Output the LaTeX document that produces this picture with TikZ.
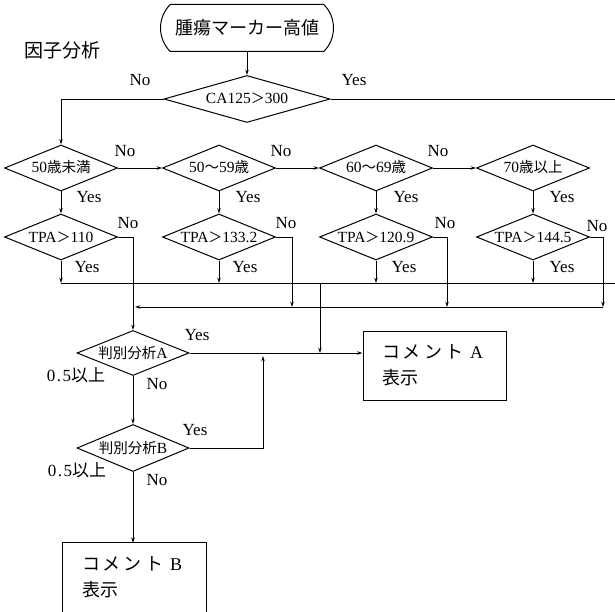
\documentclass[tikz,border=0pt]{standalone}
\usepackage{fontspec}
\setmainfont{Liberation Serif}
\newfontfamily\cjk{Noto Sans CJK JP}
\usetikzlibrary{shapes.geometric,shapes.misc,arrows.meta}
\newcommand\jpt[1]{{\cjk\fontsize{14.5}{16}\selectfont #1}}
\newcommand\jpl[1]{{\cjk\fontsize{17}{19}\selectfont #1}}
\newcommand\gtsym{{\cjk\fontsize{14}{16}\selectfont ＞}}
\tikzset{
  dia/.style={diamond, draw, line width=1pt, minimum width=113pt, minimum height=46pt,
    inner sep=0pt, aspect=2.45, text height=10pt, text depth=0pt,
    font=\fontsize{15.5}{17}\selectfont},
  startbox/.style={rounded rectangle, draw, line width=1pt, minimum width=173pt,
    minimum height=47pt, rounded rectangle arc length=90, inner sep=0pt,
    font=\cjk\fontsize{18}{20}\selectfont},
  cbox/.style={inner xsep=19pt, inner ysep=0pt, text width=105pt, align=left,
    minimum height=69pt, font=\cjk\fontsize{18}{26}\selectfont},
  conn/.style={line width=0.8pt},
  arr/.style={conn, -{Stealth[length=5.5pt,width=3.6pt]}},
  lbl/.style={inner sep=0pt, font=\fontsize{17}{19}\selectfont},
}
\begin{document}
\begin{tikzpicture}[x=1pt,y=-1pt]
\useasboundingbox (0,0) rectangle (615,612);

% top
\node[startbox] (s) at (247,28) {腫瘍マーカー高値};
\node[inner sep=0pt, font=\cjk\fontsize{19}{21}\selectfont] (title) at (62,50) {因子分析};
\node[dia, minimum width=166pt, minimum height=47pt] (ca) at (247,99) {CA125\gtsym300};
\draw[arr] (s.south) -- (ca.north);
\node[lbl] (caNo) at (140,80) {No};
\node[lbl] (caYes) at (354,80) {Yes};

% age diamonds
\node[dia] (a1) at (61,168) {50\jpt{歳未満}};
\node[dia] (a2) at (219,168) {50\jpt{～}59\jpt{歳}};
\node[dia] (a3) at (376,168) {60\jpt{～}69\jpt{歳}};
\node[dia] (a4) at (533,168) {70\jpt{歳以上}};

\draw[arr] (ca.west) -| (a1.north);
\coordinate (rtop) at (615,99);
\draw[conn] (ca.east) -- (rtop);

\draw[arr] (a1.east) -- (a2.west);
\draw[arr] (a2.east) -- (a3.west);
\draw[arr] (a3.east) -- (a4.west);
\node[lbl] (aN1) at (125,151) {No};
\node[lbl] (aN2) at (281,151) {No};
\node[lbl] (aN3) at (438,151) {No};

% TPA diamonds
\node[dia] (t1) at (61,237) {TPA\gtsym110};
\node[dia] (t2) at (219,237) {TPA\gtsym133.2};
\node[dia] (t3) at (376,237) {TPA\gtsym120.9};
\node[dia] (t4) at (533,237) {TPA\gtsym144.5};

\draw[arr] (a1.south) -- (t1.north);
\draw[arr] (a2.south) -- (t2.north);
\draw[arr] (a3.south) -- (t3.north);
\draw[arr] (a4.south) -- (t4.north);
\node[lbl] (aY1) at (89,197) {Yes};
\node[lbl] (aY2) at (248,197) {Yes};
\node[lbl] (aY3) at (406,197) {Yes};
\node[lbl] (aY4) at (562,197) {Yes};

\node[lbl] (tN1) at (128,223) {No};
\node[lbl] (tN2) at (286,223) {No};
\node[lbl] (tN3) at (445,223) {No};
\node[lbl] (tN4) at (597,226) {No};
\node[lbl] (tY1) at (87,267) {Yes};
\node[lbl] (tY2) at (245,267) {Yes};
\node[lbl] (tY3) at (404,267) {Yes};
\node[lbl] (tY4) at (562,267) {Yes};

% yes collector
\coordinate (y1) at (61,283);
\coordinate (y2) at (219,283);
\coordinate (y3) at (376,283);
\coordinate (y4) at (533,283);
\coordinate (yr) at (615,283);
\draw[arr] (t1.south) -- (y1);
\draw[arr] (t2.south) -- (y2);
\draw[arr] (t3.south) -- (y3);
\draw[arr] (t4.south) -- (y4);
\draw[conn] (y1) -- (yr);

% discriminant analysis
\node[dia, minimum width=112pt, minimum height=45pt] (jA) at (133,353) {\jpt{判別分析}A};
\node[dia, minimum width=112pt, minimum height=47pt] (jB) at (133,448) {\jpt{判別分析}B};

% no collector
\coordinate (n2) at (292,307);
\coordinate (n3) at (447,307);
\coordinate (n4) at (603,307);
\coordinate (nl) at (135,307);
\draw[arr] (t1.east) -| (jA.north);
\draw[arr] (t2.east) -| (n2);
\draw[arr] (t3.east) -| (n3);
\draw[arr] (t4.east) -| (n4);
\draw[arr] (n4) -- (nl);

% comment boxes
\node[cbox, draw, line width=1pt] (ka) at (434.5,365.5)
  {コ\hspace{3pt}メ\hspace{3pt}ン\hspace{3pt}ト\hspace{7pt}{\rmfamily A}\\表示};
\node[cbox] (kb) at (134.5,577.5)
  {コ\hspace{3pt}メ\hspace{3pt}ン\hspace{3pt}ト\hspace{7pt}{\rmfamily B}\\表示};
\draw[line width=1pt] (kb.south west) -- (kb.north west) -- (kb.north east) -- (kb.south east);

\coordinate (m) at (320,283);
\coordinate (mj) at (320,353);
\draw[arr] (m) -- (mj);
\draw[arr] (jA.east) -- (jA.east -| ka.west);
\coordinate (jup) at (263,356);
\draw[arr] (jB.east) -| (jup);
\draw[arr] (jA.south) -- (jB.north);
\draw[arr] (jB.south) -- (jB.south |- kb.north);

\node[lbl] (jAY) at (197,335) {Yes};
\node[lbl] (jAN) at (157,384) {No};
\node[lbl] (jAq) at (76,375) {0\hspace{1.5pt}.\hspace{1.5pt}5\jpl{以上}};
\node[lbl] (jBY) at (195,430) {Yes};
\node[lbl] (jBN) at (157,480) {No};
\node[lbl] (jBq) at (77,470) {0\hspace{1.5pt}.\hspace{1.5pt}5\jpl{以上}};
\end{tikzpicture}
\end{document}
